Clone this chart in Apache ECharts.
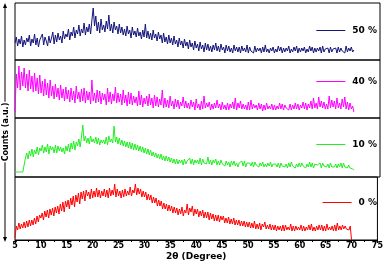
<!DOCTYPE html>
<html><head><meta charset="utf-8">
<script src="https://cdn.jsdelivr.net/npm/echarts@6/dist/echarts.min.js"></script>
<style>html,body{margin:0;padding:0;background:#fff}#c{width:386px;height:262px}</style>
</head><body><div id="c"></div>
<script>
// 2θ values 5..70 step 0.25
const twoTheta = [];
for (let i = 0; i <= 260; i++) twoTheta.push(5 + i * 0.25);
const seriesNames = ['50 %', '40 %', '10 %', '0 %'];
const xTicks = [5,10,15,20,25,30,35,40,45,50,55,60,65,70,75];
const s50 = [
17,23,14,21, 16,24,13,20, 15,22,18,25, 14,21,17,26, 15,22,13,20,
18,26,15,23, 19,14,24,17, 22,28,16,25, 18,27,20,24, 17,29,21,26,
23,31,20,28, 24,33,22,30, 26,35,24,31, 27,37,25,33, 28,36,26,40,
52,34,44,29, 38,27,41,30, 35,28,39,31, 45,29,36,27, 38,30,34,26,
36,27,33,25, 31,24,34,26, 30,22,33,25, 29,23,32,24, 28,21,30,23,
36,22,29,21, 27,20,30,22, 26,19,28,21, 25,17,27,18, 23,16,25,17,
22,15,24,16, 20,13,22,15, 19,12,21,14, 18,11,20,13, 17,10,19,12,
16,9,18,11, 15,8,17,10, 16,9,14,8, 15,10,17,9, 14,8,16,10,
13,7,15,9, 14,8,12,7, 15,9,13,8, 13,7,14,9, 12,8,15,7,
13,9,11,7, 14,8,12,9, 12,7,13,8, 15,8,11,7, 12,9,13,7,
11,8,14,9, 13,7,12,8, 12,9,14,7, 11,8,13,9, 14,7,12,8,
12,9,13,7, 11,8,14,9, 13,7,12,8, 12,9,13,7, 14,8,11,9,
12,7,13,8, 11,9,12,7, 13,8,12,9, 11,7,14,8, 12,9,13,8, 10];
const s40 = [
6,44,30,52, 28,46,32,50, 30,44,27,48, 29,42,26,45, 27,40,24,43,
25,37,22,39, 23,35,20,38, 22,32,19,34, 21,30,18,33, 20,29,17,31,
19,28,16,30, 18,27,15,32, 19,26,16,29, 17,30,15,27, 18,26,14,38,
17,25,15,28, 16,27,14,25, 18,24,13,30, 16,26,14,24, 17,31,15,25,
16,24,13,28, 15,23,12,26, 14,25,13,22, 15,21,12,27, 13,23,11,20,
14,22,12,24, 13,20,10,23, 12,21,11,19, 13,28,10,20, 11,18,10,22,
12,17,9,19, 11,18,9,16, 12,21,10,17, 10,15,9,18, 11,16,8,19,
10,14,8,17, 9,22,10,15, 11,16,8,14, 9,15,10,18, 10,14,8,16,
9,13,8,15, 8,14,10,16, 9,20,8,15, 10,17,9,14, 9,13,8,16,
8,18,9,14, 10,13,8,15, 9,14,7,13, 8,15,9,12, 9,14,8,13,
8,12,9,15, 9,14,8,13, 10,12,8,14, 8,13,9,15, 9,14,8,13,
10,16,9,15, 8,14,10,17, 9,20,10,15, 9,21,11,17, 10,16,9,14,
9,22,10,18, 11,17,9,20, 10,15,9,19, 11,21,9,16, 8,15,9,12, 6];
const s10 = [
5,5,5,5, 5,5,5,5, 19,24,18,26, 21,28,20,27, 23,30,22,29,
26,32,24,30, 25,33,23,31, 27,30,24,32, 24,31,26,30, 25,29,23,31,
26,33,25,34, 28,36,27,35, 31,38,30,40, 52,36,41,34, 39,33,41,35,
38,34,40,33, 39,32,37,34, 37,33,40,32, 41,35,38,34, 51,35,40,33,
39,32,37,31, 36,30,35,29, 35,28,34,27, 33,27,32,26, 31,25,30,24,
29,23,28,22, 27,21,25,20, 24,19,23,18, 23,17,21,16, 21,16,20,15,
19,14,18,13, 18,13,17,14, 17,12,18,13, 16,14,19,13, 18,12,17,14,
17,13,19,12, 18,14,16,13, 20,13,17,12, 17,14,18,12, 16,12,17,13,
15,11,16,12, 15,10,16,12, 16,11,14,10, 14,12,16,11, 16,10,14,12,
14,11,15,10, 15,12,13,10, 14,11,15,10, 13,10,14,11, 15,10,13,11,
13,10,14,9, 14,11,13,10, 13,9,14,10, 15,11,13,9, 13,10,14,10,
14,11,13,9, 13,10,15,10, 14,9,13,11, 12,10,14,9, 14,11,12,10,
13,9,14,10, 12,10,13,9, 13,10,14,9, 14,10,12,9, 12,9,11,8, 7];
const s0 = [
2,14,10,17, 11,16,12,18, 12,19,13,20, 14,20,15,22, 16,24,18,25,
22,27,20,29, 23,30,22,31, 25,32,24,33, 27,34,26,36, 29,38,28,39,
33,40,31,42, 35,44,33,45, 38,47,36,48, 41,49,39,50, 44,48,41,51,
42,49,43,52, 43,50,42,49, 44,51,43,50, 42,52,44,50, 45,56,43,51,
44,49,42,50, 43,51,44,49, 45,53,44,50, 47,56,45,52, 46,51,43,49,
43,48,40,46, 40,45,37,43, 37,42,34,40, 34,39,31,37, 31,36,29,35,
29,34,27,33, 27,32,25,31, 26,33,24,30, 27,36,25,32, 28,34,24,31,
26,31,23,29, 24,30,22,28, 22,28,20,27, 21,26,19,25, 19,25,18,24,
20,24,17,22, 17,23,16,21, 16,22,15,20, 15,20,14,19, 14,19,13,18,
13,18,12,17, 12,19,11,16, 11,17,10,16, 13,18,11,15, 11,16,10,15,
10,15,9,14, 10,14,9,15, 9,15,10,13, 10,16,9,14, 9,14,10,13,
10,15,9,14, 9,13,10,15, 10,16,9,13, 9,14,10,15, 10,15,9,14,
9,16,10,13, 10,14,9,15, 9,17,10,14, 10,15,11,14, 11,13,10,14, 0];
const colors = ['#14147a', '#ff00ff', '#22ee22', '#ff0000'];
const allData = [s50, s40, s10, s0];
const yMax = [57, 58, 59, 63];

const panels = [{top:3,h:57},{top:60,h:58},{top:118,h:59},{top:177,h:63}];
const legendTop = [31, 82, 145, 203];
const font = '"DejaVu Sans", Verdana, sans-serif';

const grids = panels.map(p => ({left:15, right:6, top:p.top, height:p.h, show:true, borderColor:'#000', borderWidth:1, backgroundColor:'transparent'}));
const xAxes = panels.map((p,i) => ({
  gridIndex:i, type:'value', min:5, max:75, interval:5,
  show: i === 3,
  axisLine:{show:true, lineStyle:{color:'#000', width:1}},
  axisTick:{show:true, length:3, lineStyle:{color:'#000'}},
  minorTick:{show:true, splitNumber:2, length:2, lineStyle:{color:'#000'}},
  splitLine:{show:false},
  axisLabel:{show:true, color:'#000', fontSize:8, fontWeight:'bold', fontFamily:font, margin:2,
    formatter: v => xTicks.includes(v) ? String(v) : ''},
  name: i === 3 ? '2θ (Degree)' : '', nameLocation:'middle', nameGap:12,
  nameTextStyle:{color:'#000', fontSize:9, fontWeight:'bold', fontFamily:font}
}));
const yAxes = panels.map((p,i) => ({gridIndex:i, type:'value', min:0, max:yMax[i], show:false, splitLine:{show:false}}));
const series = allData.map((d,i) => ({
  name: seriesNames[i], type:'line', xAxisIndex:i, yAxisIndex:i,
  data: d.map((v,k) => [twoTheta[k], v]), symbol:'none', showSymbol:false,
  lineStyle:{color:colors[i], width:1}, itemStyle:{color:colors[i]}, animation:false
}));
const legends = seriesNames.map((n,i) => ({
  data:[n], right:9, top:legendTop[i]-5, icon:'rect', itemWidth:29, itemHeight:1, itemGap:0,
  textStyle:{color:'#000', fontSize:9, fontWeight:'bold', fontFamily:font, padding:[0,0,0,2]},
  padding:0
}));

const chart = echarts.init(document.getElementById('c'), null, {renderer:'canvas'});
chart.setOption({
  animation:false,
  backgroundColor:'#fff',
  grid:grids, xAxis:xAxes, yAxis:yAxes, series:series, legend:legends,
  graphic:[
    {type:'line', shape:{x1:5, y1:6, x2:5, y2:240}, style:{stroke:'#000', lineWidth:1}},
    {type:'polygon', shape:{points:[[5,3],[3,8],[7,8]]}, style:{fill:'#000'}},
    {type:'polygon', shape:{points:[[5,242],[3,237],[7,237]]}, style:{fill:'#000'}},
    {type:'text', x:6, y:132, rotation:Math.PI/2,
     style:{text:'Counts (a.u.)', fill:'#000', font:'bold 8px ' + font, align:'center', verticalAlign:'middle', backgroundColor:'#fff', padding:[0,1]}}
  ]
});
</script></body></html>
